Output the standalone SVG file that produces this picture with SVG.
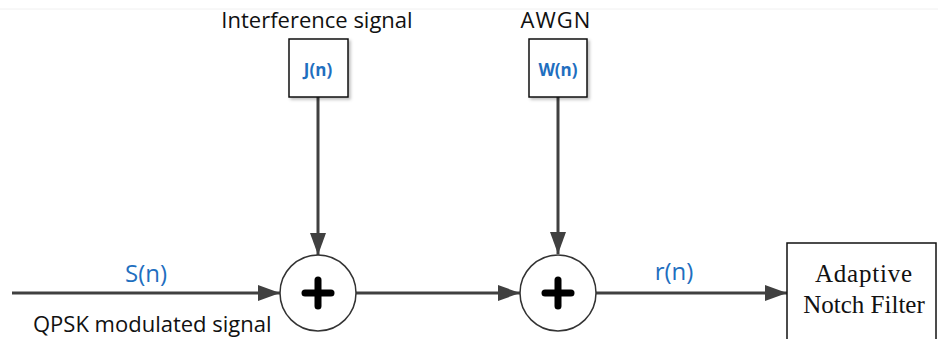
<svg xmlns="http://www.w3.org/2000/svg" width="938" height="339" viewBox="0 0 938 339">
<defs>
<style>
.lbl{font-family:"Open Sans","Liberation Sans",sans-serif;fill:#111;font-size:22px}
.sig{font-family:"Open Sans","Liberation Sans",sans-serif;fill:#1f6fbf;font-size:24px}
.small{font-family:"Open Sans","Liberation Sans",sans-serif;fill:#1f6fbf;font-size:17px;font-weight:bold}
.serif{font-family:"Liberation Serif",serif;fill:#111;font-size:25px}
.box{fill:#fff;stroke:#111;stroke-width:1.5}
.sum{fill:#fff;stroke:#333;stroke-width:1.5}
.plus{stroke:#000;stroke-width:7;stroke-linecap:round}
.wire{stroke:#404040;stroke-width:3;fill:none}
</style>
<marker id="arr" markerWidth="22" markerHeight="16" refX="22" refY="8" orient="auto" markerUnits="userSpaceOnUse">
<path d="M0,0 L22,8 L0,16 Z" fill="#404040"/>
</marker>
<filter id="sh" x="-20%" y="-20%" width="150%" height="150%">
<feDropShadow dx="2" dy="2" stdDeviation="1.5" flood-color="#000" flood-opacity="0.25"/>
</filter>
</defs>
<rect width="938" height="339" fill="#fff"/>
<line x1="0" y1="9" x2="938" y2="9" stroke="#f0f0f0" stroke-width="1"/>

<g id="connectors">
<line class="wire" x1="12" y1="293" x2="280" y2="293" marker-end="url(#arr)"/>
<line class="wire" x1="318" y1="97" x2="318" y2="255" marker-end="url(#arr)"/>
<line class="wire" x1="356" y1="293" x2="520" y2="293" marker-end="url(#arr)"/>
<line class="wire" x1="558" y1="97" x2="558" y2="254" marker-end="url(#arr)"/>
<line class="wire" x1="596" y1="293" x2="787" y2="293" marker-end="url(#arr)"/>
<text class="sig" x="146" y="282" text-anchor="middle">S(n)</text>
<text class="sig" x="674" y="280" text-anchor="middle">r(n)</text>
</g>

<g id="input-label">
<text class="lbl" x="33" y="332">QPSK modulated signal</text>
</g>

<g id="interference">
<text class="lbl" x="317" y="28" text-anchor="middle">Interference signal</text>
<rect class="box" x="289" y="39" width="59" height="58" filter="url(#sh)"/>
<text class="small" x="318" y="76" text-anchor="middle">J(n)</text>
</g>

<g id="awgn">
<text class="lbl" x="556" y="28" text-anchor="middle" letter-spacing="1">AWGN</text>
<rect class="box" x="529" y="39" width="58" height="58" filter="url(#sh)"/>
<text class="small" x="558" y="76" text-anchor="middle">W(n)</text>
</g>

<g id="sum1">
<circle class="sum" cx="318" cy="293" r="38"/>
<line class="plus" x1="305" y1="293" x2="331" y2="293"/>
<line class="plus" x1="318" y1="280" x2="318" y2="306"/>
</g>

<g id="sum2">
<circle class="sum" cx="558" cy="293" r="38"/>
<line class="plus" x1="545" y1="293" x2="571" y2="293"/>
<line class="plus" x1="558" y1="280" x2="558" y2="306"/>
</g>

<g id="anf">
<rect class="box" x="787" y="243" width="149" height="110"/>
<text class="serif" x="864" y="282" text-anchor="middle" letter-spacing="0.8">Adaptive</text>
<text class="serif" x="864" y="313" text-anchor="middle">Notch Filter</text>
</g>
</svg>
